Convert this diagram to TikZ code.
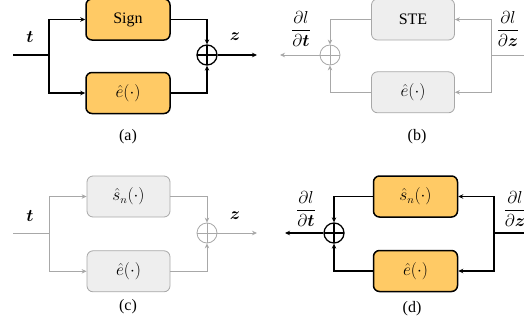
\documentclass[tikz,border=0pt]{standalone}
\usepackage{fontspec}
\setmainfont{Liberation Serif}
\usepackage{amsmath}
\usetikzlibrary{positioning,calc,arrows.meta}
\definecolor{boxorange}{HTML}{FFCA65}
\definecolor{boxgray}{HTML}{EEEEEE}
\definecolor{linegray}{HTML}{A8A8A8}

\begin{document}
\begin{tikzpicture}[x=1pt,y=-1pt,
	font=\fontsize{16}{19}\selectfont,
	fwd/.style={draw=black, line width=1.5pt, fill=boxorange, rounded corners=6pt,
		minimum width=84pt, minimum height=41pt, inner sep=0pt},
	idle/.style={draw=linegray, line width=0.8pt, fill=boxgray, rounded corners=6pt,
		minimum width=83pt, minimum height=41pt, inner sep=0pt},
	adder/.style={circle, draw=#1, minimum size=20pt, inner sep=0pt,
		path picture={\draw[#1] (path picture bounding box.north) -- (path picture bounding box.south)
			(path picture bounding box.west) -- (path picture bounding box.east);}},
	adder/.default=black,
	wire/.style={line width=1.3pt},
	faint/.style={draw=linegray, line width=0.8pt},
	>={Stealth[length=5pt,width=4.5pt]}]
	\clip (0,0) rectangle (524,324);

	% (a) forward
	\node[fwd] (sign) at (128,19.5) {Sign};
	\node[fwd, below=31pt of sign] (ea) {$\hat{e}(\cdot)$};
	\node[adder, wire] (suma) at (207,55) {};
	\coordinate (ina) at (13,55);
	\coordinate (bra) at (49,55);
	\coordinate (outa) at (257,55);
	\draw[wire] (ina) -- (bra);
	\draw[wire, ->] (bra) |- (sign);
	\draw[wire, ->] (bra) |- (ea);
	\draw[wire, ->] (sign) -| (suma);
	\draw[wire, ->] (ea) -| (suma);
	\draw[wire, ->] (suma) -- (outa);
	\node at (30,37) {$\boldsymbol{t}$};
	\node at (235,37) {$\boldsymbol{z}$};
	\node at (128,137) {(a)};

	% (b) backward, STE
	\node[idle] (ste) at (413,19.5) {STE};
	\node[idle, below=31pt of ste] (eb) {$\hat{e}(\cdot)$};
	\node[adder=linegray, line width=0.8pt] (sumb) at (330,55) {};
	\coordinate (inb) at (524,55);
	\coordinate (brb) at (491,55);
	\coordinate (outb) at (280,55);
	\draw[faint] (inb) -- (brb);
	\draw[faint, ->] (brb) |- (ste);
	\draw[faint, ->] (brb) |- (eb);
	\draw[faint, ->] (ste) -| (sumb);
	\draw[faint, ->] (eb) -| (sumb);
	\draw[faint, ->] (sumb) -- (outb);
	\node at (301,29) {$\dfrac{\partial l}{\partial \boldsymbol{t}}$};
	\node at (508,29) {$\dfrac{\partial l}{\partial \boldsymbol{z}}$};
	\node at (417,137) {(b)};

	% (c) forward, smooth sign
	\node[idle] (sc) at (128.5,196.5) {$\hat{s}_n(\cdot)$};
	\node[idle, below=33pt of sc] (ec) {$\hat{e}(\cdot)$};
	\node[adder=linegray, line width=0.8pt] (sumc) at (207,233) {};
	\coordinate (inc) at (13,233);
	\coordinate (brc) at (49,233);
	\coordinate (outc) at (257,233);
	\draw[faint] (inc) -- (brc);
	\draw[faint, ->] (brc) |- (sc);
	\draw[faint, ->] (brc) |- (ec);
	\draw[faint, ->] (sc) -| (sumc);
	\draw[faint, ->] (ec) -| (sumc);
	\draw[faint, ->] (sumc) -- (outc);
	\node at (30,216) {$\boldsymbol{t}$};
	\node at (235,216) {$\boldsymbol{z}$};
	\node at (128,307) {(c)};

	% (d) backward, smooth sign
	\node[fwd] (sd) at (415.5,196.5) {$\hat{s}_n(\cdot)$};
	\node[fwd, below=32pt of sd] (ed) {$\hat{e}(\cdot)$};
	\node[adder, wire] (sumd) at (334,233) {};
	\coordinate (ind) at (524,233);
	\coordinate (brd) at (494,233);
	\coordinate (outd) at (285,233);
	\draw[wire] (ind) -- (brd);
	\draw[wire, ->] (brd) |- (sd);
	\draw[wire, ->] (brd) |- (ed);
	\draw[wire, ->] (sd) -| (sumd);
	\draw[wire, ->] (ed) -| (sumd);
	\draw[wire, ->] (sumd) -- (outd);
	\node at (306,209) {$\dfrac{\partial l}{\partial \boldsymbol{t}}$};
	\node at (515,209) {$\dfrac{\partial l}{\partial \boldsymbol{z}}$};
	\node at (412,309) {(d)};
\end{tikzpicture}
\end{document}
